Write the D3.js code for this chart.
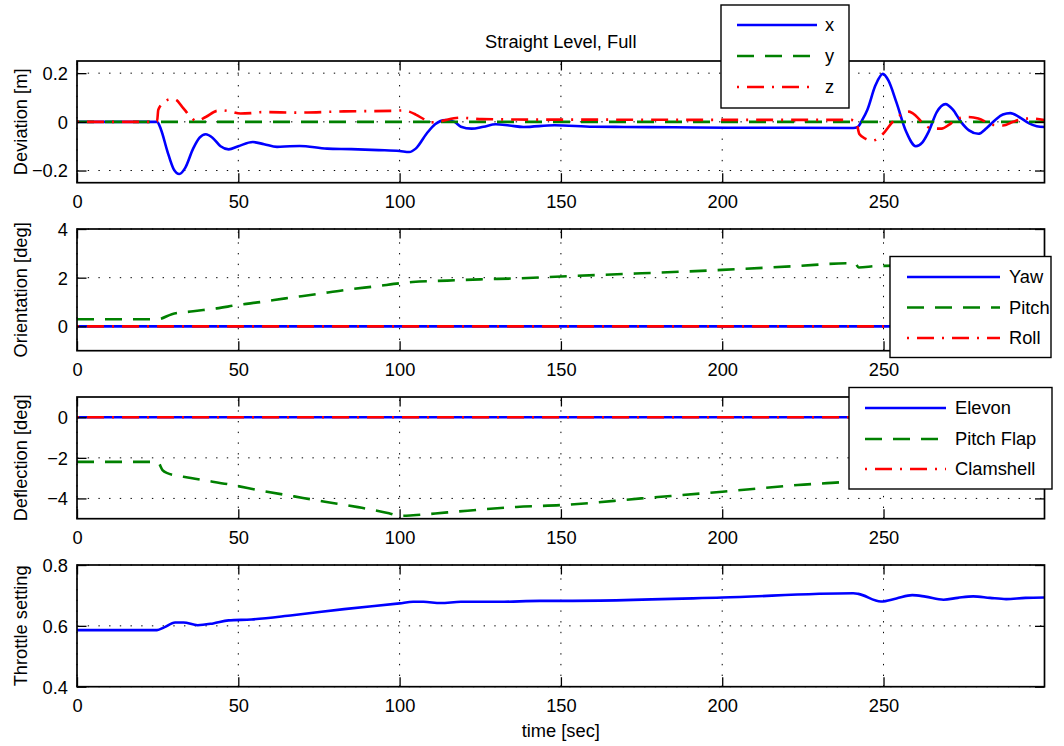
<!DOCTYPE html>
<html><head><meta charset="utf-8">
<script src="https://cdn.jsdelivr.net/npm/d3@7"></script>
<style>
body{margin:0;background:#fff;}
text{font-family:"Liberation Sans",Arial,Helvetica,sans-serif;fill:#000;}
</style>
</head><body>
<svg id="chart" width="1064" height="746"></svg>
<script>
// ---------- DATA ----------
const timeMax = 299.9;
const xTicks = [0, 50, 100, 150, 200, 250];
const titleText = "Straight Level, Full";
const xLabelText = "time [sec]";

// Panel 1: Deviation [m]
const devXTime = [0,24.8,26,28,30,31.7,33.5,36,38,39.9,42,44.5,47,50,54.5,58,62,66,69,77.5,85,93.5,100,103,105,108.4,111,114.3,117,119,122.3,126,129.8,134,138.4,148,160,169.5,185,201.8,220,240.6,242,243.5,245,247.5,249.8,251.5,254,257,260,262,264,266.5,269.2,271.5,274,276.5,279.4,282,284.8,287,289.3,292,295,297.5,299.9];
const devX     = [0,0,-0.03,-0.12,-0.195,-0.214,-0.19,-0.11,-0.065,-0.051,-0.065,-0.1,-0.113,-0.1,-0.083,-0.092,-0.103,-0.1,-0.099,-0.11,-0.112,-0.116,-0.12,-0.124,-0.11,-0.048,-0.01,0.007,0.0,-0.02,-0.028,-0.02,-0.01,-0.015,-0.021,-0.014,-0.02,-0.021,-0.022,-0.024,-0.024,-0.025,-0.021,0.01,0.05,0.15,0.197,0.17,0.08,-0.04,-0.1,-0.085,-0.04,0.04,0.073,0.05,0.0,-0.035,-0.049,-0.025,0.01,0.03,0.036,0.02,-0.005,-0.018,-0.021];
const devYTime = [0, 299.9];
const devY     = [0, 0];
const devZTime = [0,24.8,25.2,27.2,29,30.4,32.6,35.3,36.9,39.9,43.3,45,47,50.7,54,57.2,69,82.8,97.8,101,103,105,108.4,110,112,115,119,125.5,133,142.6,160,200,240,241.5,242.5,244.5,246.6,249.8,252.5,255.5,257.9,260,262.5,265,268,270.5,272.8,276,279.4,283.7,287,290.2,293,296,299.9];
const devZ     = [0,0,0.05,0.083,0.093,0.092,0.062,0.02,0.004,0.02,0.045,0.047,0.044,0.034,0.036,0.04,0.038,0.043,0.045,0.047,0.042,0.03,0.005,-0.002,0.0,0.01,0.017,0.011,0.01,0.009,0.009,0.008,0.008,0.0,-0.05,-0.07,-0.077,-0.05,-0.005,0.03,0.042,0.025,-0.01,-0.027,-0.028,-0.01,0.012,0.02,0.014,-0.012,-0.015,0.0,0.012,0.014,0.007];

// Panel 2: Orientation [deg]
const oriYawTime = [0, 299.9];
const oriYaw     = [0, 0];
const oriPitchTime = [0,25,29.4,36,43.3,50,57,64.6,74,82.8,93.5,100,104,114.8,125,136,150,175,200,223.4,238.5,241.2,242.3,248,260,280,299.9];
const oriPitch     = [0.29,0.29,0.5,0.62,0.74,0.88,1.0,1.15,1.32,1.49,1.66,1.77,1.82,1.88,1.93,1.97,2.05,2.18,2.32,2.48,2.59,2.59,2.42,2.48,2.5,2.5,2.5];
const oriRollTime = [0, 299.9];
const oriRoll     = [0, 0];

// Panel 3: Deflection [deg]
const defElevonTime = [0, 299.9];
const defElevon     = [0, 0];
const defFlapTime = [0,25,26.5,27.8,35.3,47.5,58.2,67.3,76.4,87.1,96.7,100,104.2,114.8,136.2,150,174.9,200,223.4,239,242,250,270,299.9];
const defFlap     = [-2.2,-2.2,-2.6,-2.74,-2.99,-3.32,-3.65,-3.9,-4.15,-4.43,-4.73,-4.86,-4.83,-4.69,-4.42,-4.33,-4.0,-3.67,-3.34,-3.17,-3.12,-3.1,-3.1,-3.1];
const defClamTime = [0, 299.9];
const defClam     = [0, 0];

// Panel 4: Throttle setting
const thrTime = [0,24.8,27,30.4,33,37.4,42.2,47,54,66.8,82.8,100,104.2,107.4,112.7,119,130.9,143.5,150,200,240.6,242.2,249.2,254,258.9,263,268.6,273,277.8,283,288,294,299.9];
const thr     = [0.586,0.586,0.595,0.611,0.611,0.602,0.608,0.618,0.621,0.635,0.655,0.674,0.679,0.679,0.675,0.679,0.679,0.682,0.682,0.693,0.707,0.705,0.68,0.69,0.701,0.696,0.686,0.692,0.697,0.692,0.688,0.692,0.693];

const yLabels = ["Deviation [m]", "Orientation [deg]", "Deflection [deg]", "Throttle setting"];
const yDomains = [[-0.25, 0.25], [-1, 4], [-5, 1], [0.4, 0.8]];
const yTickSets = [[-0.2, 0, 0.2], [0, 2, 4], [-4, -2, 0], [0.4, 0.6, 0.8]];
const legendNames = [["x", "y", "z"], ["Yaw", "Pitch", "Roll"], ["Elevon", "Pitch Flap", "Clamshell"], []];

// ---------- STYLE / LAYOUT ----------
const BLUE = "#0000ff", GREEN = "#008000", RED = "#ff0000";
const styles = [
  {color: BLUE, dash: null},
  {color: GREEN, dash: "17,11"},
  {color: RED, dash: "2,8,17,8"}
];
const L = 77, R = 1044.5, panelH = 121.7;
const tops = [61, 229, 397, 565];
const FS = 18.3;
const tickLen = 9.5;

const legendBoxes = [
  {x: 721, y: 5, w: 128, h: 103, rows: [25, 56, 87], lx1: 737, lx2: 817, tx: 825},
  {x: 890, y: 256.5, w: 161, h: 101, rows: [277, 307.5, 338], lx1: 907, lx2: 1000, tx: 1009},
  {x: 849, y: 387.5, w: 203, h: 101.5, rows: [408, 439, 469], lx1: 865, lx2: 946, tx: 955},
  null
];

const seriesSets = [
  [[devXTime, devX], [devYTime, devY], [devZTime, devZ]],
  [[oriYawTime, oriYaw], [oriPitchTime, oriPitch], [oriRollTime, oriRoll]],
  [[defElevonTime, defElevon], [defFlapTime, defFlap], [defClamTime, defClam]],
  [[thrTime, thr]]
];

const tickFormats = [
  d => d === 0 ? "0" : d3.format(".1f")(d),
  d3.format("d"),
  d3.format("d"),
  d3.format(".1f")
];

const svg = d3.select("#chart");
const x = d3.scaleLinear().domain([0, timeMax]).range([L, R]);

svg.append("text").attr("x", (L + R) / 2).attr("y", 48).attr("text-anchor", "middle")
  .style("font-size", FS + "px").text(titleText);

tops.forEach((top, i) => {
  const bottom = top + panelH;
  const y = d3.scaleLinear().domain(yDomains[i]).range([bottom, top]);
  const g = svg.append("g");

  const clipId = "clip" + i;
  svg.append("clipPath").attr("id", clipId).append("rect")
    .attr("x", L).attr("y", top).attr("width", R - L).attr("height", panelH);

  // grid
  const grid = g.append("g").attr("stroke", "#000").attr("stroke-width", 1)
    .attr("stroke-dasharray", "1.4,9.3").attr("fill", "none");
  xTicks.forEach(t => {
    grid.append("line").attr("x1", x(t)).attr("x2", x(t)).attr("y1", bottom).attr("y2", top);
  });
  yTickSets[i].forEach(v => {
    grid.append("line").attr("x1", L).attr("x2", R).attr("y1", y(v)).attr("y2", y(v));
  });

  // data
  const line = d3.line().x(d => x(d[0])).y(d => y(d[1])).curve(d3.curveMonotoneX);
  const dg = g.append("g").attr("clip-path", `url(#${clipId})`);
  seriesSets[i].forEach((s, k) => {
    const pts = s[0].map((t, j) => [t, s[1][j]]);
    const st = styles[k];
    dg.append("path").datum(pts).attr("d", line)
      .attr("fill", "none").attr("stroke", st.color).attr("stroke-width", 2.6)
      .attr("stroke-dasharray", st.dash).attr("stroke-linejoin", "round");
  });

  // axes
  const ax = g.append("g").attr("transform", `translate(0,${bottom})`)
    .call(d3.axisBottom(x).tickValues(xTicks).tickSizeInner(-tickLen).tickSizeOuter(0).tickPadding(12.8).tickFormat(d3.format("d")));
  const axT = g.append("g").attr("transform", `translate(0,${top})`)
    .call(d3.axisTop(x).tickValues(xTicks).tickSizeInner(-tickLen).tickSizeOuter(0).tickFormat(""));
  const ay = g.append("g").attr("transform", `translate(${L},0)`)
    .call(d3.axisLeft(y).tickValues(yTickSets[i]).tickSizeInner(-tickLen).tickSizeOuter(0).tickPadding(9).tickFormat(tickFormats[i]));
  const ayR = g.append("g").attr("transform", `translate(${R},0)`)
    .call(d3.axisRight(y).tickValues(yTickSets[i]).tickSizeInner(-tickLen).tickSizeOuter(0).tickFormat(""));
  [ax, axT, ay, ayR].forEach(a => {
    a.select(".domain").remove();
    a.selectAll(".tick line").attr("stroke", "#000").attr("stroke-width", 1.3);
    a.selectAll("text").style("font-size", FS + "px").attr("font-family", null);
  });
  ay.selectAll("text").attr("dy", "0.35em");

  // frame
  g.append("rect").attr("x", L).attr("y", top).attr("width", R - L).attr("height", panelH)
    .attr("fill", "none").attr("stroke", "#000").attr("stroke-width", 1.7);

  // y label
  svg.append("text").attr("transform", `translate(26.5,${(top + bottom) / 2}) rotate(-90)`)
    .attr("text-anchor", "middle").style("font-size", FS + "px").text(yLabels[i]);

  // legend
  const lb = legendBoxes[i];
  if (lb) {
    const lg = svg.append("g");
    lg.append("rect").attr("x", lb.x).attr("y", lb.y).attr("width", lb.w).attr("height", lb.h)
      .attr("fill", "#fff").attr("stroke", "#000").attr("stroke-width", 1.4);
    legendNames[i].forEach((name, k) => {
      const st = styles[k];
      lg.append("line").attr("x1", lb.lx1).attr("x2", lb.lx2).attr("y1", lb.rows[k]).attr("y2", lb.rows[k])
        .attr("stroke", st.color).attr("stroke-width", 2.6).attr("stroke-dasharray", st.dash);
      lg.append("text").attr("x", lb.tx).attr("y", lb.rows[k]).attr("dy", "0.35em")
        .style("font-size", FS + "px").text(name);
    });
  }
});

svg.append("text").attr("x", (L + R) / 2).attr("y", 737).attr("text-anchor", "middle")
  .style("font-size", FS + "px").text(xLabelText);
</script>
</body></html>
